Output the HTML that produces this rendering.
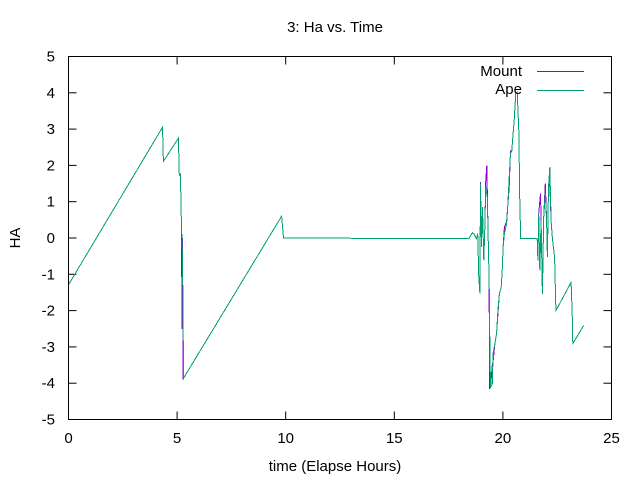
<!DOCTYPE html>
<html><head><meta charset="utf-8"><style>
body{margin:0;background:#fff}
svg{display:block;font-family:"Liberation Sans",sans-serif}
</style></head><body>
<svg id="chart" width="640" height="480" viewBox="0 0 640 480" xmlns="http://www.w3.org/2000/svg">
<rect width="640" height="480" fill="#fff"/>
<text x="335" y="32" font-size="15" text-anchor="middle">3: Ha vs. Time</text>
<text x="335" y="471" font-size="15" text-anchor="middle">time (Elapse Hours)</text>
<text x="20" y="238" font-size="15" text-anchor="middle" transform="rotate(-90 20 238)">HA</text>
<g id="grid"></g>
<g id="series"></g>
<rect x="68.5" y="56.5" width="543" height="363" fill="none" stroke="#000" stroke-width="1"/>
<g>
<text x="522" y="76" font-size="15" text-anchor="end">Mount</text>
<line x1="537" y1="71.5" x2="584" y2="71.5" stroke="#9400d3" stroke-width="1"/>
<text x="522" y="94" font-size="15" text-anchor="end">Ape</text>
<line x1="537" y1="90.5" x2="584" y2="90.5" stroke="#009e73" stroke-width="1"/>
</g>
</svg>
<script>
const xTicks=[0,5,10,15,20,25];
const yTicks=[-5,-4,-3,-2,-1,0,1,2,3,4,5];
const apeT=[0,4.33,4.37,5.06,5.1,5.15,5.2,5.25,5.3,9.81,9.9,18.43,18.59,18.69,18.78,18.84,18.89,18.94,18.97,19.01,19.06,19.12,19.17,19.21,19.28,19.32,19.37,19.4,19.43,19.51,19.55,19.63,19.71,19.77,19.84,19.92,19.97,20.01,20.07,20.17,20.23,20.29,20.35,20.41,20.47,20.53,20.59,20.66,20.73,20.78,20.82,21.58,21.61,21.65,21.7,21.76,21.82,21.88,21.95,22.01,22.05,22.1,22.16,22.22,22.28,22.38,22.44,23.14,23.19,23.22,23.72];
const apeHA=[-1.29,3.05,2.11,2.75,1.72,1.78,0.4,-0.5,-3.86,0.6,0,-0.02,0.14,0.1,-0.02,0.12,-1.08,-1.53,1.5,-0.25,0.85,-0.62,0.34,1.4,1.12,0.12,-1.26,-3.1,-4.11,-4.02,-3.18,-2.91,-2.63,-2.0,-1.53,-1.36,-0.9,-0.25,0.12,0.39,0.94,1.67,2.32,2.41,2.87,3.33,3.97,4.02,2.96,0.99,-0.02,-0.02,-0.62,0.67,-0.9,0.48,-1.54,0.57,1.22,0.48,-0.53,1.4,1.95,0.48,-0.02,-0.53,-2.0,-1.22,-2.08,-2.91,-2.41];
const mountT=[0,4.33,4.37,5.06,5.1,5.15,5.2,5.23,5.25,5.28,5.3,9.81,9.9,18.43,18.59,18.69,18.78,18.84,18.89,18.94,18.97,19.01,19.06,19.12,19.17,19.21,19.26,19.32,19.37,19.38,19.43,19.51,19.55,19.63,19.71,19.77,19.84,19.92,19.97,20.01,20.07,20.17,20.23,20.29,20.35,20.41,20.47,20.53,20.59,20.66,20.73,20.78,20.82,21.58,21.61,21.65,21.73,21.76,21.82,21.88,21.95,22.01,22.05,22.1,22.16,22.22,22.28,22.38,22.44,23.14,23.19,23.22,23.72];
const mountHA=[-1.29,3.05,2.11,2.75,1.72,1.78,0.4,-2.5,0.0,-3.9,-3.86,0.6,0,-0.02,0.14,0.1,-0.02,0.12,-1.08,-1.53,1.54,-0.25,0.85,-0.62,0.34,1.55,2.0,0.12,-1.26,-4.15,-4.11,-3.5,-3.4,-2.91,-2.63,-2.1,-1.53,-1.36,-0.9,-0.25,0.3,0.45,0.94,1.4,2.4,2.41,2.87,3.33,3.97,4.02,2.96,0.99,-0.02,-0.02,-0.62,0.67,1.22,0.48,-1.54,0.57,1.5,0.48,-0.53,1.4,1.5,0.48,-0.02,-0.53,-2.0,-1.22,-2.08,-2.91,-2.41];
const X0=68.5,X1=611.5,Y0=419.5,Y1=56.5;
function sx(t){return X0+(t-0)/(25-0)*(X1-X0);}
function sy(v){return Y0-(v+5)/10*(Y0-Y1);}
const NS="http://www.w3.org/2000/svg";
const grid=document.getElementById('grid');
xTicks.forEach(t=>{
  const x=sx(t);
  const l1=document.createElementNS(NS,'line');
  
  
  l1.setAttribute('x1',x);l1.setAttribute('x2',x);l1.setAttribute('y1',Y0);l1.setAttribute('y2',Y0-8);l1.setAttribute('stroke','#000');
  grid.appendChild(l1);
  const l2=document.createElementNS(NS,'line');
  
  
  l2.setAttribute('x1',x);l2.setAttribute('x2',x);l2.setAttribute('y1',Y1);l2.setAttribute('y2',Y1+8);l2.setAttribute('stroke','#000');
  grid.appendChild(l2);
  const tx=document.createElementNS(NS,'text');
  
  
  tx.setAttribute('x',x);tx.setAttribute('y',443);tx.setAttribute('font-size','15');tx.setAttribute('text-anchor','middle');
  tx.textContent=t;grid.appendChild(tx);
});
yTicks.forEach(v=>{
  const y=sy(v);
  const l1=document.createElementNS(NS,'line');
  
  
  l1.setAttribute('x1',X0);l1.setAttribute('x2',X0+8);l1.setAttribute('y1',y);l1.setAttribute('y2',y);l1.setAttribute('stroke','#000');
  grid.appendChild(l1);
  const l2=document.createElementNS(NS,'line');
  
  
  l2.setAttribute('x1',X1);l2.setAttribute('x2',X1-8);l2.setAttribute('y1',y);l2.setAttribute('y2',y);l2.setAttribute('stroke','#000');
  grid.appendChild(l2);
  const tx=document.createElementNS(NS,'text');
  
  
  tx.setAttribute('x',55);tx.setAttribute('y',y+5);tx.setAttribute('font-size','15');tx.setAttribute('text-anchor','end');
  tx.textContent=v;grid.appendChild(tx);
});
const series=document.getElementById('series');
function drawLine(ts,vs,color,name){
  const p=document.createElementNS(NS,'polyline');
  
  
  p.setAttribute('points',ts.map((t,i)=>sx(t).toFixed(1)+','+sy(vs[i]).toFixed(1)).join(' '));
  p.setAttribute('fill','none');p.setAttribute('stroke',color);p.setAttribute('stroke-width','1');
  p.setAttribute('shape-rendering','crispEdges');
  series.appendChild(p);
}
drawLine(mountT,mountHA,'#9400d3','mount-line');
drawLine(apeT,apeHA,'#009e73','ape-line');
</script>
</body></html>
